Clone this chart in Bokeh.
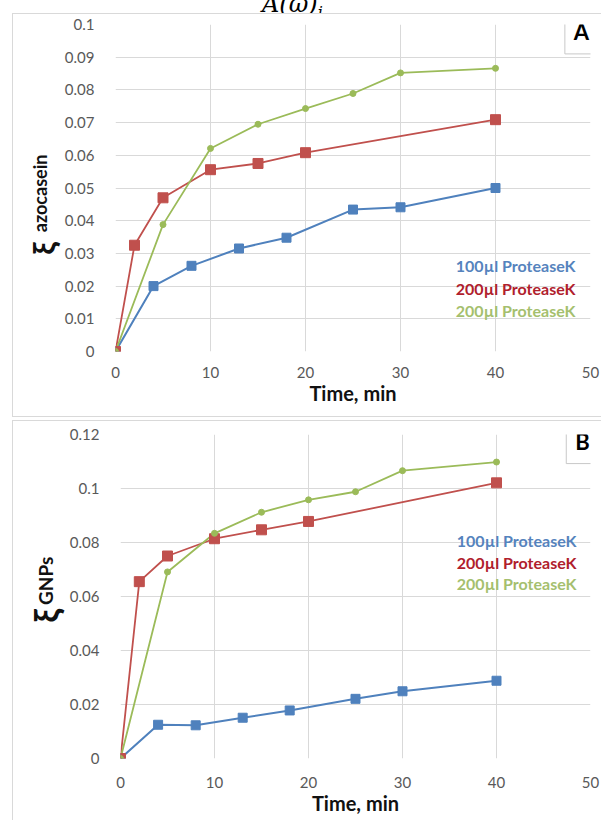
import math
from bokeh.plotting import figure
from bokeh.models import Range1d, FixedTicker, Label, Div
from bokeh.layouts import column
from bokeh.embed import file_html
from bokeh.resources import INLINE

# ---------------- data ----------------
time_blue = [0, 4, 8, 13, 18, 25, 30, 40]
time_red = [0, 2, 5, 10, 15, 20, 40]
time_green = [0, 5, 10, 15, 20, 25, 30, 40]

a_blue = [0, 0.0200, 0.0262, 0.0315, 0.0348, 0.0434, 0.0441, 0.0500]
a_red = [0, 0.0325, 0.0470, 0.0556, 0.0575, 0.0608, 0.0709]
a_green = [0, 0.0388, 0.0621, 0.0695, 0.0743, 0.0789, 0.0852, 0.0866]

b_blue = [0, 0.0125, 0.0123, 0.0151, 0.0178, 0.0221, 0.0249, 0.0288]
b_red = [0, 0.0655, 0.0750, 0.0814, 0.0847, 0.0878, 0.1021]
b_green = [0, 0.0691, 0.0834, 0.0912, 0.0958, 0.0988, 0.1066, 0.1098]

legend_labels = ["100µl ProteaseK", "200µl ProteaseK", "200µl ProteaseK"]

x_ticks = [0, 10, 20, 30, 40, 50]
a_yticks = [0, 0.01, 0.02, 0.03, 0.04, 0.05, 0.06, 0.07, 0.08, 0.09, 0.1]
a_ylabels = ["0", "0.01", "0.02", "0.03", "0.04", "0.05", "0.06", "0.07", "0.08", "0.09", "0.1"]
b_yticks = [0, 0.02, 0.04, 0.06, 0.08, 0.1, 0.12]
b_ylabels = ["0", "0.02", "0.04", "0.06", "0.08", "0.1", "0.12"]

# ---------------- styles ----------------
BLUE, RED, GREEN = "#4f81bd", "#c0504d", "#9bbb59"
LEG_COLORS = ["#5583bd", "#b0202c", "#a5bf6e"]
FONT = "Lato"
GRID = "#d9d9d9"
TICK = "#595959"
FRAME_RIGHT = 590  # page x of time 50
EDGE = "#d9d9d9"


def make_panel(height, frame_left, mb_top, mb_bottom, ymax, yticks, ylabels, top_margin,
               xstandoff, shadows):
    p = figure(width=601, height=height, output_backend="svg", toolbar_location=None,
               x_range=Range1d(0, 50), y_range=Range1d(0, ymax),
               min_border_left=frame_left, min_border_right=601 - FRAME_RIGHT,
               min_border_top=mb_top, min_border_bottom=mb_bottom,
               margin=(top_margin, 0, 0, 0),
               styles={"box-shadow": shadows})
    if "frame_align" in p.properties():
        p.frame_align = False
    p.outline_line_color = None
    p.background_fill_color = "white"
    p.border_fill_color = None
    p.xaxis.ticker = FixedTicker(ticks=x_ticks)
    p.yaxis.ticker = FixedTicker(ticks=yticks)
    p.yaxis.major_label_overrides = {t: l for t, l in zip(yticks, ylabels)}
    for ax in (p.xaxis, p.yaxis):
        ax.axis_line_color = None
        ax.major_tick_line_color = None
        ax.minor_tick_line_color = None
        ax.major_label_text_font = FONT
        ax.major_label_text_font_size = "15px"
        ax.major_label_text_color = TICK
    p.yaxis.major_label_standoff = 15
    p.xaxis.major_label_standoff = xstandoff
    p.xaxis.axis_label = "Time, min"
    p.xaxis.axis_label_text_font = FONT
    p.xaxis.axis_label_text_font_style = "bold"
    p.xaxis.axis_label_text_font_size = "20px"
    p.xaxis.axis_label_text_color = "#111111"
    p.xaxis.axis_label_standoff = 0
    p.xgrid.grid_line_color = GRID
    p.ygrid.grid_line_color = GRID
    p.xgrid.ticker = FixedTicker(ticks=x_ticks)
    p.ygrid.ticker = FixedTicker(ticks=yticks)
    return p


def draw_series(p, blue, red, green):
    p.line(time_blue, blue, line_color=BLUE, line_width=2, line_join="round")
    p.line(time_red, red, line_color=RED, line_width=1.8, line_join="round")
    p.line(time_green, green, line_color=GREEN, line_width=1.8, line_join="round")
    p.scatter(time_blue, blue, marker="square", size=9, fill_color=BLUE, line_color=BLUE)
    p.scatter(time_red, red, marker="square", size=10, fill_color=RED, line_color=RED)
    p.scatter(time_green, green, marker="circle", size=6, fill_color=GREEN, line_color=GREEN)


def add_label(p, side, pos, text, size, color="#111111", angle=0.0, align="center", box=None):
    x, y = pos
    kw = dict(x=x, y=y, text=text, angle=angle, text_align=align, text_baseline="middle",
              text_font=FONT, text_font_size=size, text_font_style="bold", text_color=color)
    if box is not None:
        kw.update(background_fill_color="white", border_line_color="#c8c8c8", padding=box)
    if side == "center":
        p.add_layout(Label(**kw))
    else:
        p.add_layout(Label(**kw), side)


# ---------------- panel A ----------------
A_X0 = 115
shadow_a = ("inset 12px 0 0 0 #ffffff, inset 13px 0 0 0 %s, inset 0 1px 0 0 %s, "
            "inset 0 -1px 0 0 %s" % (EDGE, EDGE, EDGE))
pA = make_panel(404, A_X0, 11, 66, 0.1, a_yticks, a_ylabels, 0, 9, shadow_a)
draw_series(pA, a_blue, a_red, a_green)

A_PX_X, A_Y0, A_PX_Y = (FRAME_RIGHT - A_X0) / 50.0, 350.6, 3260.0


def a_pos(px, py):
    return (px - A_X0) / A_PX_X, (A_Y0 - py) / A_PX_Y


add_label(pA, "left", a_pos(42, 248), "ξ", "31px", angle=math.pi / 2)
add_label(pA, "left", a_pos(39, 193), "azocasein", "18px", angle=math.pi / 2)
for i, (lab, col) in enumerate(zip(legend_labels, LEG_COLORS)):
    add_label(pA, "center", a_pos(575, 265 + 22.5 * i), lab, "16px", color=col, align="right")
add_label(pA, "center", a_pos(581, 31.5), "A", "22px", color="#000000", box=9)

# ---------------- panel B ----------------
B_X0 = 120
shadow_b = ("inset 12px 0 0 0 #ffffff, inset 13px 0 0 0 %s, inset 0 1px 0 0 %s"
            % (EDGE, EDGE))
pB = make_panel(400, B_X0, 14, 62, 0.12, b_yticks, b_ylabels, 3, 12, shadow_b)
draw_series(pB, b_blue, b_red, b_green)

B_PX_X, B_Y0, B_PX_Y = (FRAME_RIGHT - B_X0) / 50.0, 758.0, 2705.0


def b_pos(px, py):
    return (px - B_X0) / B_PX_X, (B_Y0 - py) / B_PX_Y


add_label(pB, "left", b_pos(45, 615), "ξ", "34px", angle=math.pi / 2)
add_label(pB, "left", b_pos(45, 580), "GNPs", "19px", angle=math.pi / 2)
for i, (lab, col) in enumerate(zip(legend_labels, LEG_COLORS)):
    add_label(pB, "center", b_pos(576, 540 + 21.5 * i), lab, "16px", color=col, align="right")
add_label(pB, "center", b_pos(582, 440), "B", "22px", color="#000000", box=9)

# ---------------- cropped formula above ----------------
top = Div(text=('<div style="margin-top:-17px; margin-left:262px; font-family:\'DejaVu Serif\';'
                ' font-style:italic; font-size:24px; white-space:nowrap; color:#000;">'
                'A(ω)<sub style="font-size:16px">i</sub></div>'),
          width=601, height=13, margin=(0, 0, 0, 0), styles={"overflow": "hidden"})

layout = column(top, pA, pB, spacing=0, margin=(0, 0, 0, 0))
open("out.html", "w").write(file_html(layout, INLINE))
